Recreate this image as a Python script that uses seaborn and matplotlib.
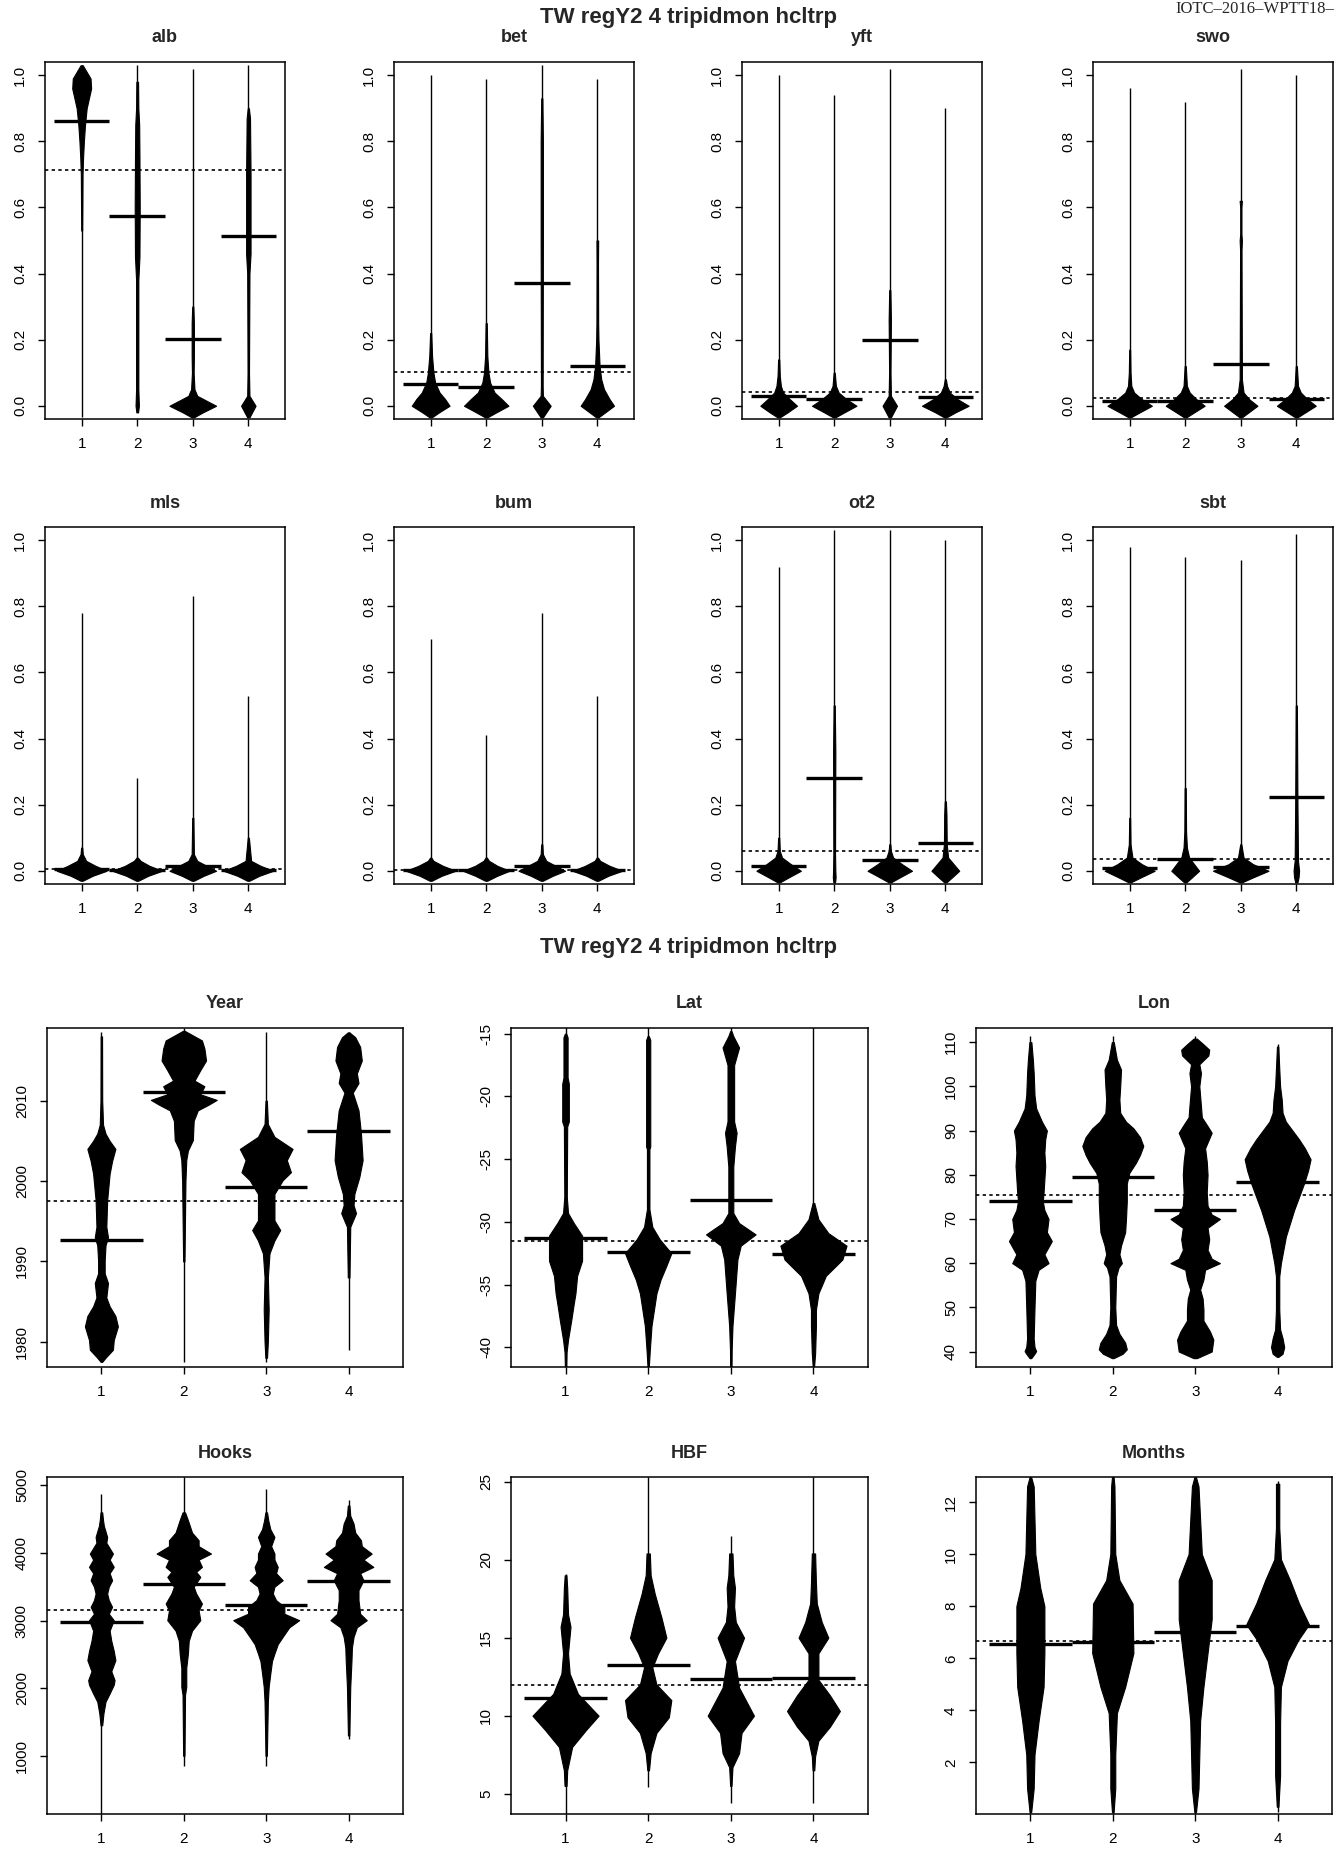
import numpy as np
import matplotlib
matplotlib.use('Agg')
import matplotlib.pyplot as plt
import seaborn as sns

# bean profiles: (value, half width in x units)
alb_beans = [
    [(0.53, 0.008), (0.70, 0.015), (0.75, 0.025), (0.80, 0.04), (0.85, 0.06), (0.90, 0.09),
     (0.93, 0.13), (0.96, 0.17), (0.99, 0.16), (1.01, 0.09), (1.03, 0.02)],
    [(-0.02, 0.015), (0.0, 0.03), (0.05, 0.02), (0.38, 0.02), (0.45, 0.04), (0.6, 0.045),
     (0.75, 0.04), (0.85, 0.035), (0.9, 0.02), (0.98, 0.015)],
    [(-0.035, 0.02), (-0.02, 0.18), (0.0, 0.42), (0.015, 0.25), (0.03, 0.08), (0.05, 0.03),
     (0.1, 0.015), (0.15, 0.02), (0.25, 0.02), (0.3, 0.01)],
    [(-0.035, 0.02), (0.0, 0.13), (0.03, 0.02), (0.1, 0.012), (0.4, 0.02), (0.46, 0.04),
     (0.7, 0.04), (0.87, 0.03), (0.9, 0.01)],
]
alb_range = [(-0.035, 1.03), (-0.02, 1.03), (-0.035, 1.02), (-0.035, 1.03)]
alb_mean = [0.862, 0.575, 0.202, 0.515]
alb_all = 0.712

bet_beans = [
    [(-0.035, 0.02), (-0.02, 0.15), (0.0, 0.34), (0.02, 0.26), (0.04, 0.16), (0.07, 0.08),
     (0.1, 0.05), (0.15, 0.025), (0.22, 0.01)],
    [(-0.035, 0.02), (-0.02, 0.18), (0.0, 0.4), (0.02, 0.28), (0.04, 0.15), (0.07, 0.07),
     (0.1, 0.04), (0.15, 0.02), (0.25, 0.01)],
    [(-0.035, 0.02), (0.0, 0.16), (0.03, 0.02), (0.06, 0.015), (0.5, 0.02), (0.8, 0.02), (0.93, 0.01)],
    [(-0.035, 0.02), (-0.02, 0.14), (0.0, 0.3), (0.02, 0.22), (0.05, 0.12), (0.08, 0.07),
     (0.12, 0.04), (0.2, 0.02), (0.25, 0.015), (0.43, 0.012), (0.5, 0.015)],
]
bet_range = [(-0.035, 1.0), (-0.035, 0.99), (-0.035, 1.03), (-0.035, 0.99)]
bet_mean = [0.065, 0.057, 0.37, 0.12]
bet_all = 0.101

yft_beans = [
    [(-0.035, 0.02), (-0.02, 0.16), (0.0, 0.33), (0.02, 0.2), (0.04, 0.08), (0.06, 0.04),
     (0.09, 0.02), (0.14, 0.01)],
    [(-0.035, 0.02), (-0.02, 0.18), (0.0, 0.4), (0.02, 0.22), (0.04, 0.08), (0.06, 0.03), (0.1, 0.01)],
    [(-0.035, 0.02), (0.0, 0.13), (0.03, 0.02), (0.1, 0.012), (0.26, 0.02), (0.35, 0.01)],
    [(-0.035, 0.02), (-0.02, 0.18), (0.0, 0.42), (0.02, 0.22), (0.04, 0.08), (0.06, 0.03), (0.08, 0.01)],
]
yft_range = [(-0.035, 1.0), (-0.035, 0.94), (-0.035, 1.02), (-0.035, 0.9)]
yft_mean = [0.03, 0.022, 0.2, 0.027]
yft_all = 0.043

swo_beans = [
    [(-0.035, 0.02), (-0.02, 0.18), (0.0, 0.4), (0.02, 0.22), (0.04, 0.08), (0.06, 0.03),
     (0.1, 0.015), (0.17, 0.008)],
    [(-0.035, 0.02), (-0.02, 0.16), (0.0, 0.35), (0.02, 0.2), (0.04, 0.08), (0.06, 0.03), (0.12, 0.01)],
    [(-0.035, 0.02), (-0.02, 0.14), (0.0, 0.3), (0.02, 0.15), (0.04, 0.05), (0.08, 0.02),
     (0.47, 0.012), (0.5, 0.02), (0.52, 0.01), (0.6, 0.01), (0.62, 0.02)],
    [(-0.035, 0.02), (-0.02, 0.16), (0.0, 0.35), (0.02, 0.2), (0.04, 0.08), (0.06, 0.03), (0.12, 0.01)],
]
swo_range = [(-0.035, 0.96), (-0.035, 0.92), (-0.035, 1.02), (-0.035, 1.0)]
swo_mean = [0.013, 0.013, 0.125, 0.022]
swo_all = 0.025

mls_beans = [
    [(-0.03, 0.02), (-0.015, 0.2), (0.0, 0.45), (0.015, 0.25), (0.03, 0.08), (0.05, 0.02), (0.07, 0.01)],
    [(-0.03, 0.02), (-0.015, 0.2), (0.0, 0.45), (0.015, 0.22), (0.03, 0.06), (0.04, 0.01)],
    [(-0.03, 0.02), (-0.015, 0.2), (0.0, 0.42), (0.015, 0.25), (0.03, 0.08), (0.05, 0.02), (0.16, 0.01)],
    [(-0.03, 0.02), (-0.015, 0.2), (0.0, 0.45), (0.015, 0.22), (0.03, 0.05), (0.1, 0.01)],
]
mls_range = [(-0.03, 0.78), (-0.03, 0.28), (-0.03, 0.83), (-0.03, 0.53)]
mls_mean = [0.006, 0.003, 0.015, 0.003]
mls_all = 0.004

bum_beans = [
    [(-0.03, 0.02), (-0.015, 0.2), (0.0, 0.45), (0.015, 0.22), (0.03, 0.05), (0.04, 0.01)],
    [(-0.03, 0.02), (-0.015, 0.2), (0.0, 0.42), (0.015, 0.2), (0.03, 0.05), (0.04, 0.01)],
    [(-0.03, 0.02), (-0.015, 0.2), (0.0, 0.42), (0.015, 0.25), (0.03, 0.08), (0.05, 0.02), (0.08, 0.01)],
    [(-0.03, 0.02), (-0.015, 0.2), (0.0, 0.45), (0.015, 0.22), (0.03, 0.05), (0.04, 0.01)],
]
bum_range = [(-0.03, 0.70), (-0.03, 0.41), (-0.03, 0.78), (-0.03, 0.53)]
bum_mean = [0.002, 0.002, 0.015, 0.002]
bum_all = 0.002

ot2_beans = [
    [(-0.035, 0.02), (-0.02, 0.18), (0.0, 0.4), (0.02, 0.22), (0.04, 0.06), (0.06, 0.02), (0.1, 0.01)],
    [(-0.035, 0.015), (-0.02, 0.025), (0.0, 0.02), (0.05, 0.015), (0.36, 0.02), (0.5, 0.01)],
    [(-0.035, 0.02), (-0.02, 0.18), (0.0, 0.4), (0.02, 0.22), (0.04, 0.06), (0.06, 0.02), (0.08, 0.01)],
    [(-0.035, 0.02), (-0.02, 0.12), (0.0, 0.25), (0.02, 0.15), (0.04, 0.05), (0.08, 0.025),
     (0.17, 0.02), (0.21, 0.01)],
]
ot2_range = [(-0.035, 0.92), (-0.035, 1.03), (-0.035, 1.03), (-0.035, 1.0)]
ot2_mean = [0.013, 0.28, 0.033, 0.085]
ot2_all = 0.061

sbt_beans = [
    [(-0.035, 0.02), (-0.02, 0.2), (0.0, 0.45), (0.02, 0.22), (0.04, 0.05), (0.08, 0.015), (0.16, 0.008)],
    [(-0.035, 0.02), (-0.02, 0.12), (0.0, 0.25), (0.02, 0.16), (0.04, 0.07), (0.07, 0.03),
     (0.12, 0.015), (0.25, 0.01)],
    [(-0.035, 0.02), (-0.02, 0.22), (0.0, 0.5), (0.02, 0.22), (0.04, 0.05), (0.08, 0.01)],
    [(-0.035, 0.02), (-0.02, 0.04), (0.0, 0.05), (0.03, 0.03), (0.2, 0.02), (0.5, 0.01)],
]
sbt_range = [(-0.035, 0.98), (-0.035, 0.95), (-0.035, 0.94), (-0.035, 1.02)]
sbt_mean = [0.007, 0.037, 0.010, 0.222]
sbt_all = 0.035

year_beans = [
    [(1977.5, 0.01), (1978, 0.05), (1979, 0.14), (1980.2, 0.15), (1981.9, 0.2), (1983.2, 0.17),
     (1984.4, 0.1), (1985.5, 0.06), (1987.3, 0.08), (1988.5, 0.04), (1990.1, 0.04), (1992, 0.05),
     (1993, 0.08), (1994.3, 0.06), (1997.6, 0.07), (2000.9, 0.1), (2002.5, 0.13), (2004, 0.17),
     (2005, 0.1), (2005.9, 0.05), (2007, 0.02), (2010, 0.01), (2018, 0.008)],
    [(1990, 0.008), (2000, 0.02), (2002.6, 0.03), (2003.8, 0.05), (2005.1, 0.11), (2007.5, 0.12),
     (2008.8, 0.17), (2009.5, 0.3), (2010.1, 0.4), (2010.8, 0.2), (2011.8, 0.25), (2012.5, 0.13),
     (2013.8, 0.2), (2015, 0.27), (2016.5, 0.25), (2017.5, 0.22), (2018.3, 0.08), (2018.7, 0.01)],
    [(1978, 0.01), (1980, 0.02), (1984, 0.03), (1988, 0.02), (1991, 0.04), (1992.6, 0.1),
     (1993.9, 0.17), (1995.1, 0.1), (1998.4, 0.1), (2000.1, 0.2), (2001.1, 0.3), (2002.6, 0.25),
     (2004, 0.32), (2005.5, 0.1), (2007.1, 0.02), (2010, 0.008)],
    [(1988, 0.01), (1994.3, 0.02), (1996, 0.09), (1997, 0.06), (1998.4, 0.07), (2000.5, 0.13),
     (2002.6, 0.17), (2005.9, 0.15), (2008.8, 0.12), (2011, 0.05), (2012.2, 0.12), (2013.4, 0.1),
     (2015, 0.16), (2016.7, 0.14), (2017.9, 0.08), (2018.5, 0.01)],
]
year_range = [(1977.5, 2018.5), (1977.5, 2019.1), (1977.5, 2018.5), (1979, 2018.5)]
year_mean = [1992.7, 2011.1, 1999.3, 2006.2]
year_all = 1997.5

lat_beans = [
    [(-41.5, 0.008), (-40.4, 0.012), (-39.4, 0.03), (-37.8, 0.07), (-36.5, 0.1), (-35.7, 0.12),
     (-34.3, 0.14), (-33.1, 0.2), (-31.1, 0.2), (-30.1, 0.1), (-29.3, 0.03), (-28, 0.015),
     (-22.4, 0.02), (-22, 0.04), (-19, 0.04), (-18.5, 0.025), (-15.3, 0.025), (-15, 0.008)],
    [(-41.5, 0.008), (-40.2, 0.02), (-38.3, 0.04), (-37, 0.07), (-35.7, 0.1), (-34.6, 0.15),
     (-33.5, 0.22), (-32.5, 0.28), (-31.4, 0.14), (-30.4, 0.05), (-29, 0.015), (-24.2, 0.015),
     (-24, 0.025), (-15.5, 0.025), (-15.2, 0.008)],
    [(-41.5, 0.008), (-40.2, 0.01), (-38.3, 0.02), (-35.7, 0.05), (-33, 0.08), (-31.9, 0.12),
     (-31, 0.3), (-30.1, 0.1), (-29.3, 0.03), (-25.6, 0.03), (-24, 0.05), (-22.9, 0.07),
     (-22, 0.04), (-17.5, 0.04), (-16.1, 0.1), (-15.2, 0.03), (-14.8, 0.008)],
    [(-41.5, 0.008), (-40.5, 0.02), (-38.3, 0.03), (-37, 0.03), (-35.7, 0.06), (-34.3, 0.15),
     (-33, 0.35), (-31.9, 0.4), (-30.9, 0.18), (-29.8, 0.06), (-28.5, 0.01)],
]
lat_range = [(-41.6, -14.5), (-41.6, -14.5), (-41.6, -14.5), (-41.6, -14.5)]
lat_mean = [-31.28, -32.42, -28.23, -32.53]
lat_all = -31.49

lon_beans = [
    [(38.5, 0.01), (39.5, 0.05), (40.1, 0.07), (41, 0.05), (43, 0.04), (50, 0.05), (56, 0.06),
     (58.5, 0.1), (60, 0.22), (62, 0.17), (65, 0.26), (67, 0.2), (70, 0.22), (72, 0.17),
     (74, 0.15), (76, 0.16), (79, 0.17), (82, 0.18), (85, 0.17), (88, 0.18), (90, 0.2),
     (92, 0.14), (95, 0.07), (98, 0.05), (103, 0.04), (106, 0.03), (110, 0.012)],
    [(38.5, 0.01), (39.5, 0.12), (40.5, 0.17), (42, 0.15), (44, 0.08), (46, 0.04), (50, 0.03),
     (57, 0.04), (59, 0.07), (60, 0.11), (62, 0.08), (64, 0.1), (67, 0.15), (70, 0.16),
     (74, 0.17), (78, 0.17), (80.4, 0.2), (82.7, 0.28), (84.5, 0.33), (86.5, 0.37), (88.5, 0.33),
     (90.5, 0.25), (92, 0.16), (94, 0.09), (97, 0.08), (100, 0.09), (103.8, 0.1), (106, 0.05),
     (110, 0.012)],
    [(38.5, 0.02), (40, 0.2), (42.7, 0.22), (44.5, 0.18), (47, 0.1), (49.5, 0.1), (52, 0.09),
     (54, 0.06), (56.3, 0.1), (58.5, 0.12), (60, 0.3), (61, 0.2), (63, 0.15), (65.4, 0.17),
     (68, 0.15), (70, 0.3), (71, 0.2), (73, 0.15), (76, 0.14), (80, 0.15), (83, 0.14),
     (86, 0.12), (89.5, 0.2), (91, 0.15), (93, 0.08), (95.5, 0.07), (100, 0.05), (103, 0.07),
     (105, 0.05), (107, 0.16), (108.3, 0.17), (109.5, 0.1), (110.8, 0.02)],
    [(38.8, 0.01), (39.5, 0.06), (41, 0.08), (43, 0.06), (45, 0.03), (49.5, 0.02), (57, 0.02),
     (60, 0.04), (63, 0.07), (66, 0.1), (69, 0.15), (72, 0.2), (75, 0.26), (78, 0.32),
     (81, 0.37), (83.5, 0.4), (86, 0.33), (88, 0.26), (90, 0.18), (92, 0.1), (94, 0.06),
     (97, 0.05), (100, 0.03), (104, 0.02), (109, 0.008)],
]
lon_range = [(38.5, 111.5), (38.5, 111.5), (38.5, 111.5), (39, 109.5)]
lon_mean = [74.0, 79.6, 72.1, 78.25]
lon_all = 75.5

hooks_beans = [
    [(1450, 0.01), (1626, 0.025), (1800, 0.05), (1921, 0.1), (2050, 0.15), (2118, 0.16),
     (2250, 0.12), (2414, 0.17), (2550, 0.15), (2700, 0.12), (2850, 0.1), (3005, 0.15),
     (3100, 0.09), (3202, 0.13), (3300, 0.09), (3399, 0.07), (3500, 0.09), (3596, 0.13),
     (3700, 0.1), (3793, 0.15), (3900, 0.1), (3990, 0.14), (4150, 0.06), (4236, 0.07),
     (4400, 0.03), (4483, 0.02), (4600, 0.01)],
    [(1000, 0.008), (1900, 0.015), (2020, 0.03), (2300, 0.03), (2512, 0.05), (2700, 0.06),
     (2850, 0.1), (3005, 0.2), (3150, 0.18), (3251, 0.22), (3399, 0.15), (3500, 0.12),
     (3645, 0.2), (3720, 0.15), (3793, 0.22), (3900, 0.18), (3990, 0.33), (4100, 0.18),
     (4187, 0.18), (4300, 0.1), (4483, 0.05), (4600, 0.015)],
    [(1000, 0.008), (1800, 0.02), (2020, 0.03), (2217, 0.05), (2400, 0.07), (2512, 0.1),
     (2650, 0.14), (2759, 0.2), (2900, 0.28), (3005, 0.4), (3100, 0.22), (3202, 0.22),
     (3300, 0.12), (3399, 0.08), (3500, 0.1), (3596, 0.2), (3700, 0.12), (3793, 0.14),
     (3900, 0.1), (3990, 0.1), (4100, 0.06), (4236, 0.1), (4350, 0.05), (4483, 0.025), (4600, 0.01)],
    [(1300, 0.008), (2020, 0.02), (2414, 0.035), (2600, 0.04), (2759, 0.06), (2900, 0.1),
     (3005, 0.22), (3100, 0.14), (3300, 0.12), (3450, 0.12), (3596, 0.18), (3700, 0.14),
     (3793, 0.3), (3900, 0.18), (3990, 0.28), (4100, 0.16), (4187, 0.15), (4300, 0.08),
     (4433, 0.06), (4550, 0.02), (4700, 0.01)],
]
hooks_range = [(138, 4870), (850, 5123), (850, 4950), (1250, 4780)]
hooks_mean = [2980, 3547, 3236, 3586]
hooks_all = 3153

hbf_beans = [
    [(5.5, 0.012), (6.5, 0.02), (8, 0.08), (9.1, 0.25), (10, 0.4), (11.4, 0.15), (12.7, 0.05),
     (14, 0.03), (15.7, 0.06), (16.5, 0.03), (18.2, 0.02), (19, 0.01)],
    [(6.5, 0.01), (7.6, 0.03), (8.9, 0.1), (9.9, 0.25), (11, 0.28), (12, 0.1), (13.1, 0.05),
     (14, 0.12), (15, 0.22), (16.3, 0.16), (17.8, 0.08), (19, 0.03), (20.4, 0.02)],
    [(5.5, 0.008), (6.7, 0.02), (7.6, 0.1), (8.9, 0.13), (10, 0.28), (11.8, 0.1), (13.5, 0.05),
     (15, 0.16), (16, 0.06), (17, 0.04), (18.2, 0.05), (19, 0.03), (20.4, 0.02)],
    [(6.5, 0.01), (7.4, 0.02), (8.4, 0.06), (9.3, 0.2), (10.3, 0.32), (11.3, 0.2), (12.3, 0.06),
     (14, 0.06), (15, 0.18), (16, 0.1), (17.2, 0.04), (18.5, 0.03), (20.4, 0.02)],
]
hbf_range = [(3.7, 19.1), (5.4, 25.3), (4.4, 21.5), (4.4, 25.3)]
hbf_mean = [11.13, 13.22, 12.35, 12.43]
hbf_all = 11.99

months_beans = [
    [(0.1, 0.01), (1.0, 0.04), (2.3, 0.05), (3.6, 0.1), (4.9, 0.16), (6.2, 0.17), (7.2, 0.17),
     (8, 0.17), (8.7, 0.12), (10, 0.06), (12.6, 0.04), (12.95, 0.01)],
    [(0.1, 0.01), (1.0, 0.03), (2.3, 0.03), (3.9, 0.05), (4.9, 0.15), (6.2, 0.25), (8.1, 0.24),
     (9, 0.08), (10, 0.03), (12.6, 0.02), (12.95, 0.01)],
    [(0.1, 0.01), (1.0, 0.04), (2.3, 0.05), (3.6, 0.06), (4.9, 0.1), (6.2, 0.15), (7.5, 0.2),
     (9, 0.2), (10, 0.08), (12.6, 0.04), (12.95, 0.01)],
    [(0.3, 0.01), (1.5, 0.03), (3.5, 0.03), (4.9, 0.04), (5.9, 0.12), (6.7, 0.25), (7.3, 0.38),
     (8.1, 0.26), (9, 0.15), (9.8, 0.04), (11, 0.02), (12.7, 0.02)],
]
months_range = [(0.02, 12.96), (0.02, 12.96), (0.02, 12.96), (0.1, 12.8)]
months_mean = [6.55, 6.63, 7.0, 7.22]
months_all = 6.65

groups = [1, 2, 3, 4]
main_title = 'TW regY2 4 tripidmon hcltrp'

W, H = 1338, 1850

sns.set_theme(style='white')
plt.rcParams['font.family'] = ['Liberation Sans', 'DejaVu Sans']


def panel(fig, box, name, beans, rng, means, overall, ylim, yticks, ylabels):
    l, t, r, b = box
    ax = fig.add_axes([l / W, 1 - b / H, (r - l) / W, (b - t) / H])
    for i, prof in zip(groups, beans):
        ys = np.array([p[0] for p in prof])
        ws = np.array([p[1] for p in prof])
        ax.vlines(i, rng[i - 1][0], rng[i - 1][1], color='black', lw=1.0)
        ax.fill_betweenx(ys, i - ws, i + ws, color='black', lw=0.8)
        ax.hlines(means[i - 1], i - 0.5, i + 0.5, color='black', lw=2.4)
    ax.axhline(overall, color='black', lw=1.2, ls=(0, (2, 2)))
    ax.set_xlim(0.34, 4.66)
    ax.set_ylim(*ylim)
    ax.set_xticks(groups)
    ax.set_xticklabels([str(g) for g in groups])
    ax.set_yticks(yticks)
    ax.set_yticklabels(ylabels, rotation=90, va='center')
    ax.tick_params(direction='out', length=5, width=1, labelsize=11, pad=8,
                   left=True, bottom=True, colors='black')
    for s in ax.spines.values():
        s.set_visible(True)
        s.set_color('black')
        s.set_linewidth(1.1)
    fig.text((l + r) / 2 / W, 1 - (t - 24) / H, name, ha='center', va='center',
             fontsize=13, fontweight='bold')
    return ax


fig = plt.figure(figsize=(W / 100, H / 100), dpi=100)

prop_ticks = [0.0, 0.2, 0.4, 0.6, 0.8, 1.0]
prop_labels = ['0.0', '0.2', '0.4', '0.6', '0.8', '1.0']
top_x = [(45, 285), (394, 634), (742, 982), (1093, 1333)]
top_rows = [
    [('alb', alb_beans, alb_range, alb_mean, alb_all), ('bet', bet_beans, bet_range, bet_mean, bet_all),
     ('yft', yft_beans, yft_range, yft_mean, yft_all), ('swo', swo_beans, swo_range, swo_mean, swo_all)],
    [('mls', mls_beans, mls_range, mls_mean, mls_all), ('bum', bum_beans, bum_range, bum_mean, bum_all),
     ('ot2', ot2_beans, ot2_range, ot2_mean, ot2_all), ('sbt', sbt_beans, sbt_range, sbt_mean, sbt_all)],
]
top_y = [(62, 419), (527, 884)]
for (t, b), row in zip(top_y, top_rows):
    for (l, r), (name, beans, rng, means, overall) in zip(top_x, row):
        panel(fig, (l, t, r, b), name, beans, rng, means, overall, (-0.04, 1.04), prop_ticks, prop_labels)

bot_x = [(47, 403), (511, 868), (976, 1332)]
bot_y = [(1028, 1367), (1477, 1814)]
bot_rows = [
    [('Year', year_beans, year_range, year_mean, year_all, (1976.85, 2019.05), [1980, 1990, 2000, 2010]),
     ('Lat', lat_beans, lat_range, lat_mean, lat_all, (-41.57, -14.55), [-40, -35, -30, -25, -20, -15]),
     ('Lon', lon_beans, lon_range, lon_mean, lon_all, (36.5, 113.2), [40, 50, 60, 70, 80, 90, 100, 110])],
    [('Hooks', hooks_beans, hooks_range, hooks_mean, hooks_all, (138, 5123), [1000, 2000, 3000, 4000, 5000]),
     ('HBF', hbf_beans, hbf_range, hbf_mean, hbf_all, (3.7, 25.3), [5, 10, 15, 20, 25]),
     ('Months', months_beans, months_range, months_mean, months_all, (0.02, 12.96), [2, 4, 6, 8, 10, 12])],
]
for (t, b), row in zip(bot_y, bot_rows):
    for (l, r), (name, beans, rng, means, overall, ylim, ticks) in zip(bot_x, row):
        panel(fig, (l, t, r, b), name, beans, rng, means, overall, ylim, ticks, [str(v) for v in ticks])

fig.text(688 / W, 1 - 18 / H, main_title, ha='center', va='center', fontsize=16, fontweight='bold')
fig.text(688 / W, 1 - 948 / H, main_title, ha='center', va='center', fontsize=16, fontweight='bold')
fig.text(1334 / W, 1 - 13 / H, 'IOTC\u20132016\u2013WPTT18\u2013', ha='right', va='baseline',
         fontsize=12, family=['Liberation Serif', 'DejaVu Serif'])

fig.savefig('out.png', dpi=100, facecolor='white')
